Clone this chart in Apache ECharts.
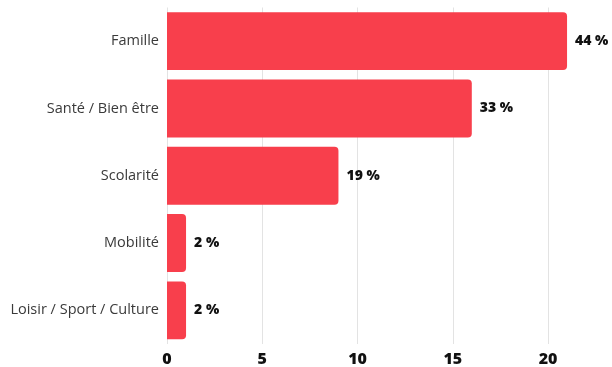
<!DOCTYPE html>
<html><head><meta charset="utf-8">
<script src="https://cdn.jsdelivr.net/npm/echarts@6/dist/echarts.min.js"></script>
<style>html,body{margin:0;padding:0;background:#fff}#c{width:612px;height:367px}</style>
</head><body><div id="c"></div>
<script>
const categories = ["Famille", "Santé / Bien être", "Scolarité", "Mobilité", "Loisir / Sport / Culture"];
const values = [21, 16, 9, 1, 1];
const pctLabels = ["44 %", "33 %", "19 %", "2 %", "2 %"];
const xTicks = [0, 5, 10, 15, 20];

const chart = echarts.init(document.getElementById('c'), null, {renderer: 'canvas'});
chart.setOption({
  animation: false,
  backgroundColor: '#ffffff',
  grid: {left: 167, right: 64, top: 7.5, height: 338, containLabel: false},
  xAxis: {
    type: 'value', min: xTicks[0], max: xTicks[xTicks.length - 1], interval: 5,
    axisLine: {show: false}, axisTick: {show: false},
    splitLine: {show: true, lineStyle: {color: '#e3e3e3', width: 1}},
    axisLabel: {color: '#111', fontFamily: 'Open Sans', fontWeight: 800, fontSize: 16, margin: 7}
  },
  yAxis: {
    type: 'category', inverse: true, data: categories,
    axisLine: {show: false}, axisTick: {show: false},
    axisLabel: {color: '#3a3a3a', fontFamily: 'Open Sans', fontSize: 14.5, margin: 8}
  },
  series: [{
    type: 'bar', data: values, clip: false, barCategoryGap: '14%',
    itemStyle: {color: '#F83F4C', borderRadius: [0, 4, 4, 0]},
    label: {
      show: true, position: 'right', distance: 8,
      formatter: p => pctLabels[p.dataIndex],
      color: '#111', fontFamily: 'Open Sans', fontWeight: 800, fontSize: 14
    }
  }]
});
</script></body></html>
